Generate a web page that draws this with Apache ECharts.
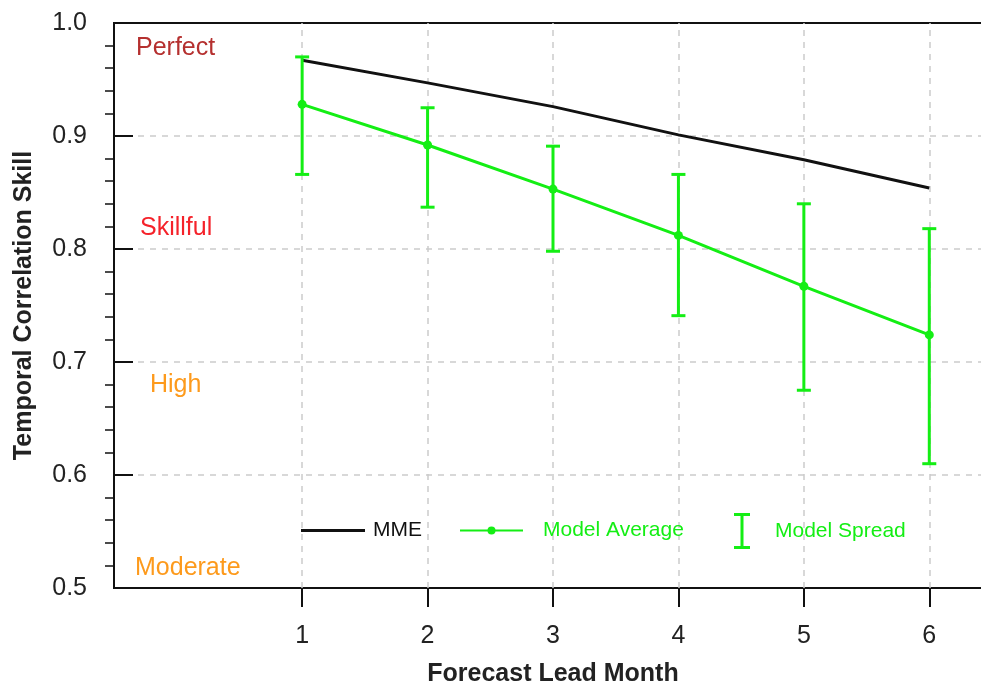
<!DOCTYPE html>
<html>
<head>
<meta charset="utf-8">
<script src="https://cdn.jsdelivr.net/npm/echarts@6/dist/echarts.min.js"></script>
<style>
  html, body { margin: 0; padding: 0; background: #fff; }
  #chart { width: 981px; height: 684px; }
</style>
</head>
<body>
<div id="chart"></div>
<script>
const leadMonths = [1, 2, 3, 4, 5, 6];
const mmeSkill = [0.967, 0.947, 0.926, 0.901, 0.879, 0.854];
const modelAverage = [0.928, 0.892, 0.853, 0.812, 0.767, 0.724];
const spreadLow = [0.866, 0.837, 0.798, 0.741, 0.675, 0.610];
const spreadHigh = [0.970, 0.925, 0.891, 0.866, 0.840, 0.818];
const yTicks = ['0.5', '0.6', '0.7', '0.8', '0.9', '1.0'];
const skillLevels = ['Perfect', 'Skillful', 'High', 'Moderate'];

const green = '#14ee14';
const font = '"Liberation Sans", Arial, Helvetica, sans-serif';

(function () {
  const chart = echarts.init(document.getElementById('chart'), null, { renderer: 'canvas' });

  const spreadData = leadMonths.map((m, i) => [m, spreadLow[i], spreadHigh[i]]);

  function renderSpread(params, api) {
    const x = api.value(0);
    const lo = api.coord([x, api.value(1)]);
    const hi = api.coord([x, api.value(2)]);
    const cap = 7;
    const style = { stroke: green, lineWidth: 3 };
    return {
      type: 'group',
      children: [
        { type: 'line', shape: { x1: lo[0], y1: lo[1], x2: hi[0], y2: hi[1] }, style },
        { type: 'line', shape: { x1: lo[0] - cap, y1: lo[1], x2: lo[0] + cap, y2: lo[1] }, style },
        { type: 'line', shape: { x1: hi[0] - cap, y1: hi[1], x2: hi[0] + cap, y2: hi[1] }, style }
      ]
    };
  }

  const levelColors = ['#b5302f', '#f5222a', '#fd9a1c', '#fd9a1c'];
  const levelPos = [[136, 36], [140, 216], [150, 373], [135, 556]];
  const gridDash = { color: '#cccccc', type: [6, 6], width: 1.5 };

  const option = {
    animation: false,
    grid: {
      left: 114,
      top: 23,
      width: 878,
      height: 565,
      outerBoundsMode: 'none',
      containLabel: false,
      show: true,
      borderColor: '#111',
      borderWidth: 2,
      backgroundColor: 'transparent'
    },
    legend: [
      {
        left: 301, top: 520, padding: 0, itemWidth: 64, itemHeight: 3, itemGap: 0,
        data: [{ name: 'MME', icon: 'rect', textStyle: { color: '#111' } }],
        textStyle: { fontFamily: font, fontSize: 21, padding: [0, 0, 0, 3] },
        selectedMode: false
      },
      {
        left: 459, top: 520, padding: 0, itemWidth: 63, itemHeight: 10, itemGap: 0,
        data: [{ name: 'Model Average', textStyle: { color: green } }],
        textStyle: { fontFamily: font, fontSize: 21, padding: [0, 0, 0, 15] },
        selectedMode: false
      },
      {
        left: 734, top: 513, padding: 0, itemWidth: 16, itemHeight: 36, itemGap: 0,
        data: [{
          name: 'Model Spread',
          icon: 'path://M0,0 H16 V3 H9.5 V33 H16 V36 H0 V33 H6.5 V3 H0 Z',
          textStyle: { color: green }
        }],
        textStyle: { fontFamily: font, fontSize: 21, padding: [0, 0, 0, 20] },
        selectedMode: false
      }
    ],
    xAxis: {
      type: 'value',
      min: -0.5,
      max: 6.5,
      name: 'Forecast Lead Month',
      nameLocation: 'middle',
      nameGap: 74,
      nameTextStyle: { fontFamily: font, fontSize: 25, fontWeight: 'bold', color: '#222' },
      axisLine: { onZero: false, lineStyle: { color: '#111', width: 2 } },
      axisTick: { show: true, inside: false, length: 19, customValues: leadMonths, lineStyle: { color: '#111', width: 2 } },
      axisLabel: { customValues: leadMonths, margin: 36, fontFamily: font, fontSize: 25, color: '#222' },
      splitLine: { show: false }
    },
    yAxis: [
      {
        type: 'value',
        position: 'left',
        min: 0.5,
        max: 1.0,
        interval: 0.1,
        name: 'Temporal Correlation Skill',
        nameLocation: 'middle',
        nameGap: 77,
        nameTextStyle: { fontFamily: font, fontSize: 25, fontWeight: 'bold', color: '#222' },
        axisLine: { show: true, onZero: false, lineStyle: { color: '#111', width: 2 } },
        axisTick: { show: true, inside: true, length: 19, lineStyle: { color: '#111', width: 2 } },
        axisLabel: {
          margin: 27, fontFamily: font, fontSize: 25, color: '#222',
          formatter: (v) => yTicks[Math.round((v - 0.5) * 10)]
        },
        splitLine: { show: true, showMinLine: false, showMaxLine: false, lineStyle: gridDash }
      },
      {
        type: 'value',
        position: 'left',
        min: 0.5,
        max: 1.0,
        interval: 0.1,
        axisLine: { show: false, onZero: false },
        axisTick: { show: false, inside: false },
        axisLabel: { show: false },
        splitLine: { show: false },
        minorTick: { show: true, splitNumber: 5, length: 9, lineStyle: { color: '#111', width: 1.5 } }
      }
    ],
    graphic: skillLevels.map((t, i) => ({
      type: 'text',
      left: levelPos[i][0],
      top: levelPos[i][1],
      style: { text: t, fill: levelColors[i], font: '25px ' + font }
    })),
    series: [
      {
        name: 'month grid',
        type: 'line',
        data: [],
        z: 1,
        markLine: {
          silent: true,
          z: 1,
          symbol: 'none',
          label: { show: false },
          lineStyle: gridDash,
          data: leadMonths.map((m) => ({ xAxis: m }))
        }
      },
      {
        name: 'MME',
        type: 'line',
        data: leadMonths.map((m, i) => [m, mmeSkill[i]]),
        symbol: 'none',
        lineStyle: { color: '#111', width: 3 },
        itemStyle: { color: '#111' },
        z: 3
      },
      {
        name: 'Model Average',
        type: 'line',
        data: leadMonths.map((m, i) => [m, modelAverage[i]]),
        symbol: 'circle',
        symbolSize: 9,
        showSymbol: true,
        lineStyle: { color: green, width: 3 },
        itemStyle: { color: green },
        z: 4
      },
      {
        name: 'Model Spread',
        type: 'custom',
        renderItem: renderSpread,
        data: spreadData,
        itemStyle: { color: green },
        encode: { x: 0, y: [1, 2] },
        z: 4
      }
    ]
  };

  chart.setOption(option);
  window.addEventListener('resize', () => chart.resize());
})();
</script>
</body>
</html>
